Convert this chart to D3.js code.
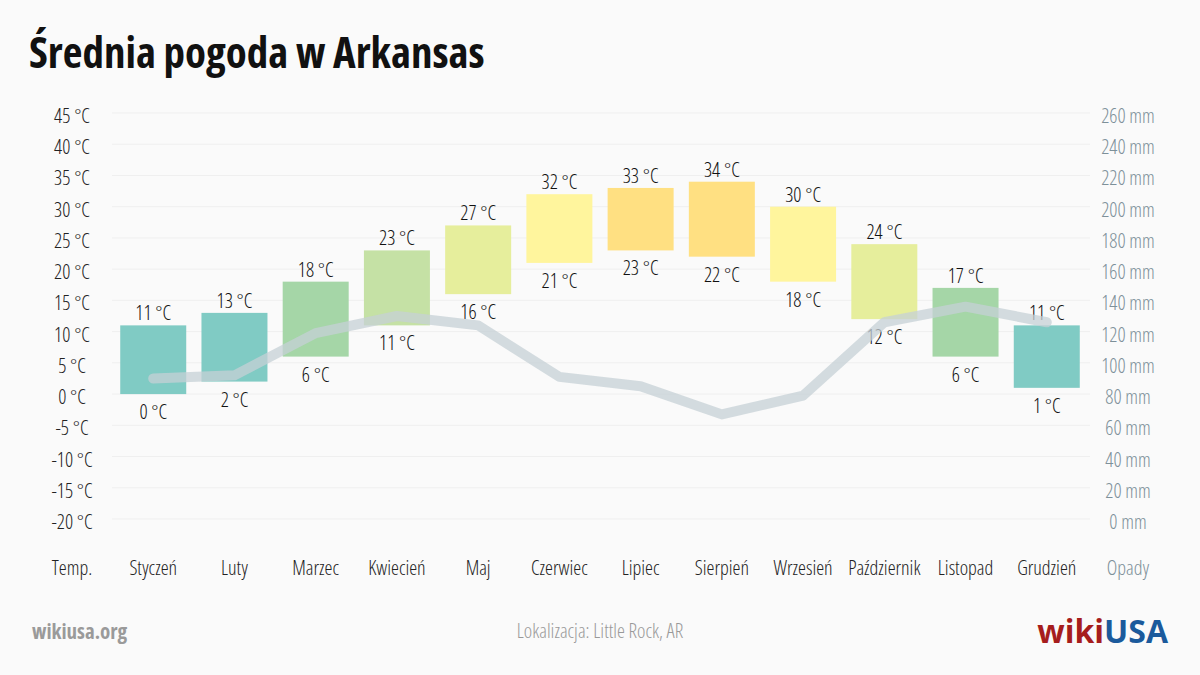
<!DOCTYPE html>
<html>
<head>
<meta charset="utf-8">
<script src="https://cdn.jsdelivr.net/npm/d3@7"></script>
<style>
  body { margin: 0; background: #fafafa; }
  svg { font-family: "Open Sans", sans-serif; font-stretch: 75%; }
</style>
</head>
<body>
<svg width="1200" height="675"></svg>
<script>
// data
let months = ["Styczeń", "Luty", "Marzec", "Kwiecień", "Maj", "Czerwiec", "Lipiec",
  "Sierpień", "Wrzesień", "Październik", "Listopad", "Grudzień"];
let tempMax = [11, 13, 18, 23, 27, 32, 33, 34, 30, 24, 17, 11];
let tempMin = [0, 2, 6, 11, 16, 21, 23, 22, 18, 12, 6, 1];
let rain = [90, 92, 119, 130, 124, 91, 85, 67, 79, 126, 136, 126];
let tempTicks = [45, 40, 35, 30, 25, 20, 15, 10, 5, 0, -5, -10, -15, -20];
let rainTicks = [260, 240, 220, 200, 180, 160, 140, 120, 100, 80, 60, 40, 20, 0];

let svg = d3.select("svg");

let x = d3.scalePoint().domain(["Temp."].concat(months, ["Opady"])).range([72, 1128]);
let yT = d3.scaleLinear().domain([-20, 45]).range([519, 113]);
let yR = d3.scaleLinear().domain([0, 260]).range([519, 113]);

// bar colour by max temperature
let color = d3.scaleThreshold()
  .domain([15, 20, 24, 30, 33])
  .range(["#80cbc4", "#a5d6a7", "#c5e1a5", "#e6ee9c", "#fff59d", "#ffe082"]);

// title
svg.append("text")
  .attr("x", 29).attr("y", 68)
  .attr("font-size", 43).attr("font-weight", 700)
  .attr("fill", "#111")
  .text("Średnia pogoda w Arkansas");

// grid lines
svg.append("g").selectAll("line")
  .data(tempTicks)
  .enter().append("line")
  .attr("x1", 112).attr("x2", 1090)
  .attr("y1", d => yT(d)).attr("y2", d => yT(d))
  .attr("stroke", "#efefef").attr("stroke-width", 1);

// left axis
svg.append("g").selectAll("text")
  .data(tempTicks)
  .enter().append("text")
  .attr("x", x("Temp.")).attr("y", d => yT(d) + 10)
  .attr("text-anchor", "middle")
  .attr("font-size", 20).attr("font-weight", 300).attr("fill", "#222")
  .text(d => d + " °C");

// right axis
svg.append("g").selectAll("text")
  .data(rainTicks)
  .enter().append("text")
  .attr("x", x("Opady")).attr("y", d => yR(d) + 10)
  .attr("text-anchor", "middle")
  .attr("font-size", 20).attr("font-weight", 300).attr("fill", "#7d9099")
  .text(d => d + " mm");

// bottom labels
svg.append("g").selectAll("text")
  .data(x.domain())
  .enter().append("text")
  .attr("x", d => x(d)).attr("y", 575)
  .attr("text-anchor", "middle")
  .attr("font-size", 20).attr("font-weight", 300)
  .attr("fill", d => d == "Opady" ? "#7d9099" : "#222")
  .text(d => d);

// temperature bars
let bw = 66;
let bars = svg.append("g").selectAll("g")
  .data(months.map((m, i) => ({ m: m, hi: tempMax[i], lo: tempMin[i] })))
  .enter().append("g");

bars.append("rect")
  .attr("x", d => x(d.m) - bw / 2)
  .attr("y", d => yT(d.hi))
  .attr("width", bw)
  .attr("height", d => yT(d.lo) - yT(d.hi))
  .attr("fill", d => color(d.hi));

bars.append("text")
  .attr("x", d => x(d.m)).attr("y", d => yT(d.hi) - 5)
  .attr("text-anchor", "middle")
  .attr("font-size", 20).attr("font-weight", 300).attr("fill", "#111")
  .text(d => d.hi + " °C");

bars.append("text")
  .attr("x", d => x(d.m)).attr("y", d => yT(d.lo) + 25)
  .attr("text-anchor", "middle")
  .attr("font-size", 20).attr("font-weight", 300).attr("fill", "#111")
  .text(d => d.lo + " °C");

// precipitation line
let line = d3.line()
  .x((d, i) => x(months[i]))
  .y(d => yR(d));

svg.append("path")
  .datum(rain)
  .attr("d", line)
  .attr("fill", "none")
  .attr("stroke", "#c5d0d5")
  .attr("stroke-opacity", 0.75)
  .attr("stroke-width", 10)
  .attr("stroke-linecap", "round")
  .attr("stroke-linejoin", "round");

// footer
svg.append("text")
  .attr("x", 32).attr("y", 639)
  .attr("font-size", 21).attr("font-weight", 700)
  .attr("fill", "#9a9a9a")
  .text("wikiusa.org");

svg.append("text")
  .attr("x", 600).attr("y", 638)
  .attr("text-anchor", "middle")
  .attr("font-size", 20).attr("font-weight", 300).attr("fill", "#999")
  .text("Lokalizacja: Little Rock, AR");

let logo = svg.append("text")
  .attr("x", 1168).attr("y", 643)
  .attr("text-anchor", "end")
  .attr("font-size", 32).attr("font-weight", 700)
  .style("font-stretch", "100%");
logo.append("tspan").attr("fill", "#a61d1d").text("wiki");
logo.append("tspan").attr("fill", "#1b5a9c").text("USA");
</script>
</body>
</html>
